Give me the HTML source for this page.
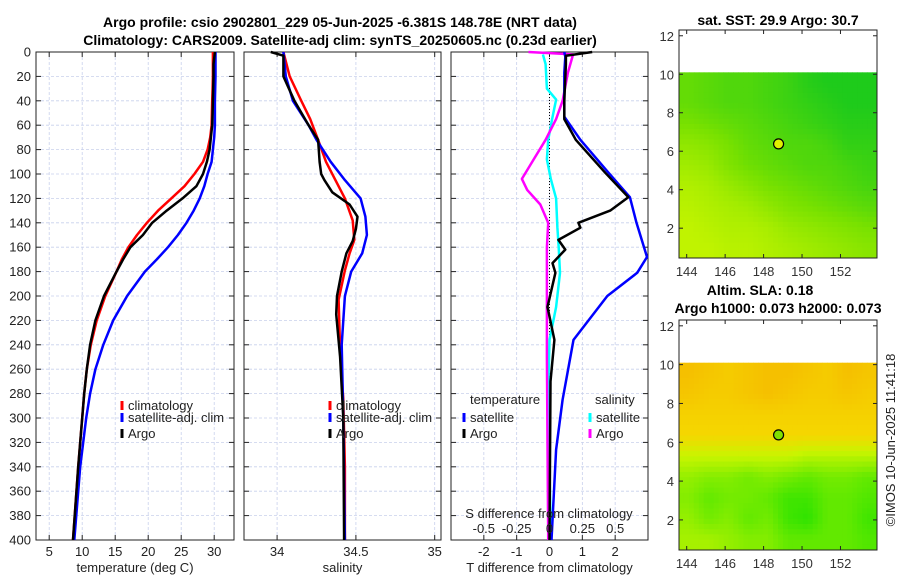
<!DOCTYPE html>
<html><head><meta charset="utf-8"><style>
body{margin:0;background:#fff;}
svg{display:block;font-family:"Liberation Sans","DejaVu Sans",sans-serif;}
</style></head><body>
<svg id="fig" width="900" height="580" viewBox="0 0 900 580" xmlns="http://www.w3.org/2000/svg">
<text x="340" y="27" font-size="14" font-weight="bold" text-anchor="middle">Argo profile: csio 2902801_229 05-Jun-2025 -6.381S 148.78E (NRT data)</text>
<text x="340" y="45" font-size="14" font-weight="bold" text-anchor="middle">Climatology: CARS2009. Satellite-adj clim: synTS_20250605.nc (0.23d earlier)</text>
<text x="778" y="25" font-size="14" font-weight="bold" text-anchor="middle">sat. SST: 29.9 Argo: 30.7</text>
<text x="760" y="295" font-size="14" font-weight="bold" text-anchor="middle">Altim. SLA: 0.18</text>
<text x="778" y="313" font-size="14" font-weight="bold" text-anchor="middle">Argo h1000: 0.073 h2000: 0.073</text>
<text transform="translate(895,440) rotate(-90)" font-size="13" text-anchor="middle" fill="#222">©IMOS 10-Jun-2025 11:41:18</text>
<g id="plots"></g>
</svg>
<script>
const depths = [0,10,20,30,40,50,60,70,80,90,100,110,120,130,140,150,160,170,180,200,220,240,260,280,300,340,400];
const tClim = [29.8,29.8,29.8,29.75,29.7,29.65,29.6,29.4,29.0,28.3,27.0,25.5,23.5,21.5,19.8,18.3,17.0,16.0,15.2,13.5,12.2,11.3,10.7,10.3,10.0,9.4,8.6];
const tArgo = [30.1,29.9,29.9,29.85,29.8,29.75,29.7,29.5,29.3,28.9,28.3,27.3,25.2,22.8,20.6,19.2,17.3,16.2,15.2,13.3,12.0,11.2,10.7,10.3,10.0,9.4,8.6];
const tSat = [30.2,30.2,30.2,30.15,30.1,30.1,30.1,30.0,29.8,29.6,29.0,28.5,27.8,26.9,25.8,24.5,23.0,21.3,19.5,16.8,14.7,13.2,12.0,11.2,10.6,9.7,8.8];
const sClimDepths = [0,20,39,55,72,90,105,120,138,154,165,179,203,244,285,340,400];
const sClim = [34.04,34.08,34.15,34.21,34.26,34.31,34.37,34.43,34.48,34.49,34.46,34.43,34.39,34.4,34.42,34.43,34.43];
const sArgoDepths = [0,3,20,40,60,72,90,100,105,115,125,135,145,155,165,180,200,215,250,300,400];
const sArgo = [33.96,34.04,34.04,34.11,34.2,34.26,34.27,34.28,34.3,34.35,34.46,34.51,34.5,34.48,34.44,34.41,34.38,34.375,34.4,34.42,34.425];
const sSatDepths = [0,20,40,60,72,90,105,120,135,150,165,180,200,240,300,400];
const sSat = [34.04,34.055,34.1,34.2,34.25,34.34,34.43,34.53,34.56,34.57,34.54,34.47,34.43,34.41,34.42,34.43];
const dtSatDepths = [0,4,17,53,72,99,119,140,168,181,200,236,285,326,400];
const dtSat = [0.45,0.48,0.45,0.45,0.94,1.8,2.45,2.65,2.97,2.67,1.76,0.73,0.4,0.2,0.06];
const dtArgoDepths = [0,3,10,40,55,72,99,119,130,140,144,154,162,173,181,209,236,270,400];
const dtArgo = [1.3,0.5,0.5,0.45,0.45,0.8,1.7,2.4,1.85,0.88,0.94,0.27,0.48,0.09,0.18,-0.06,0.15,0.03,0.0];
const dsArgoDepths = [0,2,17,40,55,72,88,104,113,125,140,160,250,400];
const dsArgo = [-0.16,0.18,0.14,0.1,0.05,-0.03,-0.12,-0.21,-0.17,-0.07,-0.01,-0.02,-0.02,-0.01];
const dsSatDepths = [2,10,30,39,55,72,88,104,120,144,160,181,209,236,280,400];
const dsSat = [-0.05,-0.03,-0.02,0.05,0.02,-0.01,-0.02,0.01,0.05,0.06,0.07,0.08,0.05,0.0,-0.01,0.01];
const depthTicks = [0,20,40,60,80,100,120,140,160,180,200,220,240,260,280,300,320,340,360,380,400];
const tTicks = [5,10,15,20,25,30];
const sTicks = [34,34.5,35];
const sTickLabels = ["34","34.5","35"];
const dtTicks = [-2,-1,0,1,2];
const dsTicks = [-0.5,-0.25,0,0.25,0.5];
const dsTickLabels = ["-0.5","-0.25","0","0.25","0.5"];
const sstGrid = [
[.6,.65,.7,.7,.75,.8,.9,.95,.95,.95],
[.6,.65,.7,.7,.75,.8,.85,.9,.95,.95],
[.5,.55,.6,.65,.7,.75,.8,.85,.9,.9],
[.35,.4,.5,.6,.65,.7,.7,.75,.85,.85],
[.25,.3,.45,.55,.6,.65,.7,.7,.75,.8],
[.15,.2,.3,.4,.5,.55,.6,.65,.7,.75],
[.1,.15,.2,.25,.35,.45,.5,.55,.6,.65],
[.05,.1,.15,.15,.2,.3,.35,.4,.45,.5],
[.05,.05,.1,.1,.15,.2,.25,.3,.35,.4]];
const slaGrid = [
[.1,.15,.2,.15,.1,.1,.15,.2,.1,.15],
[.15,.2,.2,.15,.1,.15,.2,.2,.15,.2],
[.25,.25,.25,.25,.25,.25,.25,.25,.25,.25],
[.3,.3,.3,.3,.3,.3,.3,.3,.3,.3],
[.5,.5,.5,.5,.5,.5,.55,.55,.55,.55],
[.65,.7,.7,.75,.7,.75,.8,.75,.75,.8],
[.7,.8,.75,.75,.8,.9,.9,.8,.8,.85],
[.65,.75,.7,.8,.75,.9,.95,.8,.8,.9],
[.6,.6,.65,.7,.7,.8,.8,.8,.8,.85]];
const lonTicks = [144,146,148,150,152];
const latTicks = [2,4,6,8,10,12];
const argoLon = 148.78, argoLat = 6.38;

const NS="http://www.w3.org/2000/svg";
const G=document.getElementById('plots');
function el(tag,attrs,parent,txt){const e=document.createElementNS(NS,tag);for(const k in attrs)e.setAttribute(k,attrs[k]);if(txt!==undefined)e.textContent=txt;(parent||G).appendChild(e);return e;}
const Y0=52,Y1=540;
const yD=d=>Y0+d*(Y1-Y0)/400;

function panel(name,x0,x1,vmin,vmax,ticks,labels,xlabel,showY){
  const xs=v=>x0+(v-vmin)*(x1-x0)/(vmax-vmin);
  const g=el('g',{});
  
  
  depthTicks.forEach(d=>{const l=el('line',{x1:x0,x2:x1,y1:yD(d),y2:yD(d),stroke:'#c8d0ec','stroke-width':0.8,'stroke-dasharray':'3,2'},g);
    el('line',{x1:x0,x2:x0+5,y1:yD(d),y2:yD(d),stroke:'#222'},g);el('line',{x1:x1-5,x2:x1,y1:yD(d),y2:yD(d),stroke:'#222'},g);
    if(showY){const t=el('text',{x:x0-5,y:yD(d)+4.5,'font-size':13,'text-anchor':'end',fill:'#222'},g,String(d));}});
  ticks.forEach((v,i)=>{const x=xs(v);el('line',{x1:x,x2:x,y1:Y0,y2:Y1,stroke:'#c8d0ec','stroke-width':0.8,'stroke-dasharray':'3,2'},g);
    el('line',{x1:x,x2:x,y1:Y1-5,y2:Y1,stroke:'#222'},g);el('line',{x1:x,x2:x,y1:Y0,y2:Y0+5,stroke:'#222'},g);
    const t=el('text',{x:x,y:556,'font-size':13,'text-anchor':'middle',fill:'#222'},g,labels[i]);});
  const r=el('rect',{x:x0,y:Y0,width:x1-x0,height:Y1-Y0,fill:'none',stroke:'#222','stroke-width':1},g);
  const xl=el('text',{x:(x0+x1)/2,y:572,'font-size':13,'text-anchor':'middle',fill:'#222'},g,xlabel);
  return {g,xs};
}
function line(p,ds,vs,color,name,w){const pts=ds.map((d,i)=>p.xs(vs[i]).toFixed(1)+','+yD(d).toFixed(1)).join(' ');
  const l=el('polyline',{points:pts,fill:'none',stroke:color,'stroke-width':w||2.5,'stroke-linejoin':'round'},p.g);
  }
function legend(g,x,y,color,label,name){const m=el('line',{x1:x,x2:x,y1:y-9,y2:y,stroke:color,'stroke-width':3},g);
  const t=el('text',{x:x+6,y:y,'font-size':13,fill:'#222'},g,label);}

const p1=panel('temperature-panel',36,234,3,33,tTicks,tTicks.map(String),'temperature (deg C)',true);
line(p1,depths,tClim,'#ff0000','temperature-climatology-line');
line(p1,depths,tSat,'#0000ff','temperature-satellite-line');
line(p1,depths,tArgo,'#000','temperature-argo-line');
legend(p1.g,122,410,'#ff0000','climatology','legend-climatology');
legend(p1.g,122,422,'#0000ff','satellite-adj. clim','legend-satellite');
legend(p1.g,122,438,'#000','Argo','legend-argo');

const p2=panel('salinity-panel',244,441,33.79,35.04,sTicks,sTickLabels,'salinity',false);
line(p2,sClimDepths,sClim,'#ff0000','salinity-climatology-line');
line(p2,sSatDepths,sSat,'#0000ff','salinity-satellite-line');
line(p2,sArgoDepths,sArgo,'#000','salinity-argo-line');
legend(p2.g,330,410,'#ff0000','climatology','legend-climatology');
legend(p2.g,330,422,'#0000ff','satellite-adj. clim','legend-satellite');
legend(p2.g,330,438,'#000','Argo','legend-argo');

const p3=panel('difference-panel',451,648,-3,3,dtTicks,dtTicks.map(String),'T difference from climatology',false);
el('line',{x1:p3.xs(0),x2:p3.xs(0),y1:Y0,y2:Y1,stroke:'#000','stroke-width':1,'stroke-dasharray':'1,2'},p3.g);
const sx=v=>v*4;
line(p3,dsSatDepths,dsSat.map(sx),'#00ffff','salinity-diff-satellite-line');
line(p3,dsArgoDepths,dsArgo.map(sx),'#ff00ff','salinity-diff-argo-line');
line(p3,dtSatDepths,dtSat,'#0000ff','temperature-diff-satellite-line');
line(p3,dtArgoDepths,dtArgo,'#000','temperature-diff-argo-line');
{const t=el('text',{x:470,y:404,'font-size':13,fill:'#222'},p3.g,'temperature');
 const t2=el('text',{x:595,y:404,'font-size':13,fill:'#222'},p3.g,'salinity');}
legend(p3.g,464,422,'#0000ff','satellite','legend-temp-satellite');
legend(p3.g,464,438,'#000','Argo','legend-temp-argo');
legend(p3.g,590,422,'#00ffff','satellite','legend-sal-satellite');
legend(p3.g,590,438,'#ff00ff','Argo','legend-sal-argo');
{const t=el('text',{x:549,y:518,'font-size':13,'text-anchor':'middle',fill:'#222'},p3.g,'S difference from climatology');
 dsTicks.forEach((v,i)=>{const l=el('text',{x:p3.xs(sx(v)),y:533,'font-size':13,'text-anchor':'middle',fill:'#222'},p3.g,dsTickLabels[i]);});}

function lerp(a,b,t){return a.map((v,i)=>Math.round(v+(b[i]-v)*t));}
function cmap(stops,v){for(let i=0;i<stops.length-1;i++){if(v<=stops[i+1][0]){const t=(v-stops[i][0])/(stops[i+1][0]-stops[i][0]);const c=lerp(stops[i][1],stops[i+1][1],t);return 'rgb('+c.join(',')+')';}}const c=stops[stops.length-1][1];return 'rgb('+c.join(',')+')';}
const sstStops=[[0,[200,245,0]],[0.5,[120,225,0]],[1,[20,200,30]]];
const slaStops=[[0,[245,180,0]],[0.3,[245,215,0]],[0.5,[200,245,0]],[1,[30,225,0]]];
function sample(grid,fr,fc){const nr=grid.length,nc=grid[0].length;
  const r=Math.min(Math.max(fr-0.5,0),nr-1),c=Math.min(Math.max(fc-0.5,0),nc-1);
  const r0=Math.floor(r),c0=Math.floor(c),r1=Math.min(r0+1,nr-1),c1=Math.min(c0+1,nc-1),tr=r-r0,tc=c-c0;
  const a=grid[r0][c0]*(1-tc)+grid[r0][c1]*tc,b=grid[r1][c0]*(1-tc)+grid[r1][c1]*tc;return a*(1-tr)+b*tr;}
function map(name,y0,y1,grid,stops,dotColor){
  const x0=679,x1=877,lon0=143.6,lon1=153.9,lat0=0.45,lat1=12.3;
  const xs=v=>x0+(v-lon0)*(x1-x0)/(lon1-lon0);
  const ys=v=>y1-(v-lat0)*(y1-y0)/(lat1-lat0);
  const g=el('g',{});
  
  
  const top=ys(10.1),nr=grid.length,nc=grid[0].length,S=4,cw=(x1-x0)/(nc*S),ch=(y1-top)/(nr*S);
  for(let r=0;r<nr*S;r++)for(let c=0;c<nc*S;c++){const v=sample(grid,(r+0.5)/S,(c+0.5)/S);
    const cell=el('rect',{x:(x0+c*cw).toFixed(2),y:(top+r*ch).toFixed(2),width:(cw+0.5).toFixed(2),height:(ch+0.5).toFixed(2),fill:cmap(stops,v)},g);
    
    }
  el('rect',{x:x0,y:y0,width:x1-x0,height:y1-y0,fill:'none',stroke:'#222'},g);
  lonTicks.forEach(v=>{el('line',{x1:xs(v),x2:xs(v),y1:y1,y2:y1-4,stroke:'#222'},g);el('line',{x1:xs(v),x2:xs(v),y1:y0,y2:y0+4,stroke:'#222'},g);
    const t=el('text',{x:xs(v),y:y1+18,'font-size':13,'text-anchor':'middle',fill:'#333'},g,String(v));});
  latTicks.forEach(v=>{el('line',{x1:x0,x2:x0+4,y1:ys(v),y2:ys(v),stroke:'#222'},g);el('line',{x1:x1,x2:x1-4,y1:ys(v),y2:ys(v),stroke:'#222'},g);
    const t=el('text',{x:x0-5,y:ys(v)+5,'font-size':13,'text-anchor':'end',fill:'#333'},g,String(v));});
  const m=el('circle',{cx:xs(argoLon),cy:ys(argoLat),r:5,fill:dotColor,stroke:'#000','stroke-width':1.2},g);
  
  
}
map('sst-map',30,258,sstGrid,sstStops,'#e0f000');
map('sla-map',320,550,slaGrid,slaStops,'#80e000');
</script>
</body></html>
